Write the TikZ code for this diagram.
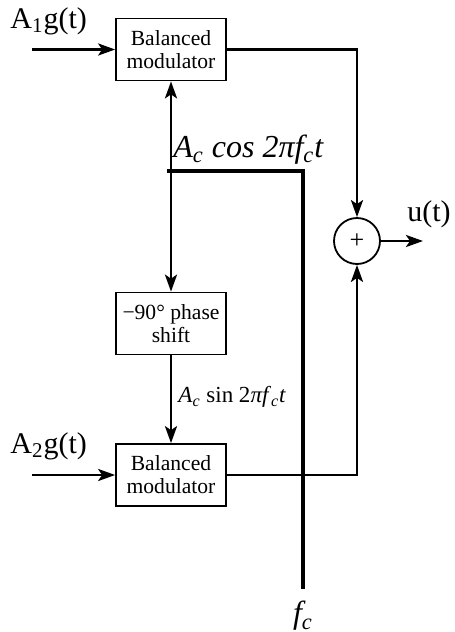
\documentclass[tikz,border=0pt]{standalone}
\usepackage{fontspec}
\setmainfont{Liberation Serif}
\usetikzlibrary{arrows.meta,positioning,calc}

\begin{document}
\begin{tikzpicture}[
    x=0.5pt, y=-0.5pt,
    block/.style={rectangle, draw, line width=0.85pt, minimum width=55pt, minimum height=31pt, inner sep=1pt, align=center, font=\fontsize{10.8}{11.5}\selectfont},
    adder/.style={circle, draw, line width=0.9pt, minimum size=23pt, inner sep=0pt, font=\fontsize{13}{13}\selectfont},
    arr/.style={-{Stealth[length=8.5pt, width=6pt, inset=2pt]}, line width=1.35pt},
    carrier/.style={line width=2.4pt},
    sig/.style={inner sep=0pt, font=\fontsize{15}{17}\selectfont},
]
    \useasboundingbox (0,0) rectangle (455,632);

    % Blocks
    \node[block] (mod1) at (171,49.5) {Balanced\\modulator};
    \node[block] (shift) at (171,323.5) {−90° phase\\shift};
    \node[block] (mod2) at (171,475) {Balanced\\modulator};

    % Adder
    \node[adder] (sum) at (357,241) {+};

    % Free ends
    \coordinate (in1) at (32,49.5);
    \coordinate (in2) at (32,475);
    \coordinate (out) at (423,241);
    \coordinate (tap) at (171,171);
    \coordinate (osc) at (303,171);
    \coordinate (fc) at (303,589);

    % Carrier
    \draw[carrier] ([xshift=-2pt]tap) -- (osc) -- (fc);

    % Arrows
    \draw[arr] (in1) -- (mod1);
    \draw[arr] (in2) -- (mod2);
    \draw[arr] (tap) -- (mod1.south);
    \draw[arr] (tap) -- (shift.north);
    \draw[arr] (shift) -- (mod2);
    \draw[arr] (mod1.east) -| (sum.north);
    \draw[arr] (mod2.east) -| (sum.south);
    \draw[arr] (sum) -- (out);

    % Labels
    \node[sig, anchor=base west] (a1) at (10,28) {A\textsubscript{1}g(t)};
    \node[sig, anchor=base west] (a2) at (10,453) {A\textsubscript{2}g(t)};
    \node[sig, anchor=base west] (u) at (407,221) {u(t)};
    \node[anchor=base west, inner sep=0pt, font=\fontsize{16}{18}\selectfont\itshape] (cosl) at (173,157) {A\textsubscript{c} cos 2πf\textsubscript{c}t};
    \node[anchor=west, inner sep=0pt, font=\fontsize{11.5}{13}\selectfont] (sinl) at (178,397) {\textit{A}\textsubscript{\textit{c}} sin 2\textit{πf}\textsubscript{\textit{c}}\textit{t}};
    \node[below=6pt of fc, inner sep=0pt, font=\fontsize{16}{18}\selectfont\itshape] (fcl) {f\textsubscript{c}};
\end{tikzpicture}
\end{document}
